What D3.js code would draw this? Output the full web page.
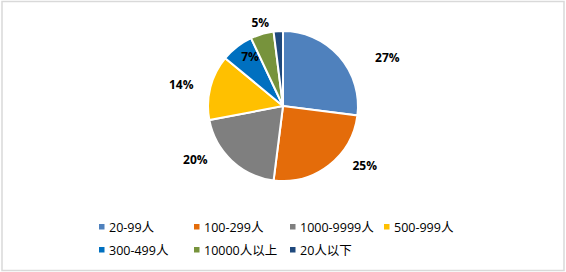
<!DOCTYPE html>
<html>
<head>
<meta charset="utf-8">
<script src="https://d3js.org/d3.v7.min.js"></script>
<style>
  body { margin: 0; background: #fff; }
  svg { display: block; font-family: "Open Sans", "Noto Sans CJK SC", sans-serif; }
</style>
</head>
<body>
<svg id="drawing_region"></svg>
<script>
const categories = ["20-99人", "100-299人", "1000-9999人", "500-999人", "300-499人", "10000人以上", "20人以下"];
const values = [27, 25, 20, 14, 7, 5, 2];
const labels = ["27%", "25%", "20%", "14%", "7%", "5%", ""];
const colors = ["#4f81bd", "#e46c0a", "#7f7f7f", "#ffc000", "#0070c0", "#77933c", "#1f497d"];

const config = {
    width: 566,
    height: 272,
    cx: 283,
    cy: 106,
    radius: 75
};

const svg = d3.select('#drawing_region')
    .attr('width', config.width)
    .attr('height', config.height);

// chart frame
svg.append('rect')
    .attr('x', 2).attr('y', 1.5)
    .attr('width', 562).attr('height', 269)
    .attr('fill', '#fff')
    .attr('stroke', '#d9d9d9')
    .attr('stroke-width', 1.5);

const data = categories.map((c, i) => ({ name: c, value: values[i], label: labels[i], color: colors[i] }));

const pie = d3.pie().sort(null).value(d => d.value);
const arcs = pie(data);

const arc = d3.arc().innerRadius(0).outerRadius(config.radius);

const chart = svg.append('g')
    .attr('transform', `translate(${config.cx}, ${config.cy})`);

chart.selectAll('path')
    .data(arcs)
    .join('path')
    .attr('d', arc)
    .attr('fill', d => d.data.color)
    .attr('stroke', '#fff')
    .attr('stroke-width', 2);

// excel "best fit" label placement: angle shift (fraction of slice) and radius
const labelPlace = [
    { f: 0.67, r: 115 },
    { f: 0.32, r: 101 },
    { f: 0.71, r: 103 },
    { f: 0.45, r: 104 },
    { f: 0.65, r: 59 },
    { f: 0.55, r: 86 },
    { f: 0.5, r: 90 }
];

chart.selectAll('text.lbl')
    .data(arcs)
    .join('text')
    .attr('class', 'lbl')
    .attr('transform', (d, i) => {
        const p = labelPlace[i];
        const a = d.startAngle + (d.endAngle - d.startAngle) * p.f;
        return `translate(${Math.sin(a) * p.r}, ${-Math.cos(a) * p.r})`;
    })
    .attr('text-anchor', 'middle')
    .attr('dy', '0.35em')
    .attr('font-size', 12)
    .attr('font-weight', 'bold')
    .attr('fill', '#000')
    .text(d => d.data.label);

// legend
const legendX = d3.scaleOrdinal().domain([0, 1, 2, 3]).range([102, 197, 293, 387]);
const legendY = d3.scaleOrdinal().domain([0, 1]).range([227, 250]);

const legend = svg.append('g')
    .selectAll('g')
    .data(data)
    .join('g')
    .attr('transform', (d, i) => `translate(${legendX(i % 4)}, ${legendY(Math.floor(i / 4))})`);

legend.append('rect')
    .attr('x', -3).attr('y', -3)
    .attr('width', 5.5).attr('height', 5.5)
    .attr('fill', d => d.color);

legend.append('text')
    .attr('x', 7)
    .attr('dy', '0.36em')
    .attr('font-size', 12.5)
    .attr('fill', '#000')
    .text(d => d.name);
</script>
</body>
</html>
